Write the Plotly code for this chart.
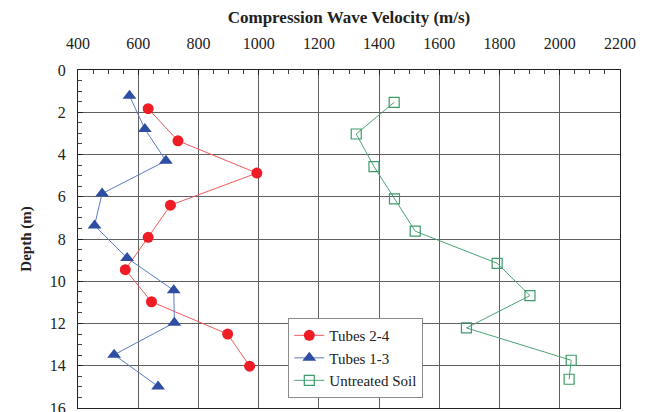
import plotly.graph_objects as go

# Tubes 2-4
red_vel = [633, 732, 994, 707, 633, 557, 644, 897, 970]
red_depth = [1.83, 3.35, 4.88, 6.4, 7.92, 9.45, 10.97, 12.5, 14.02]
# Tubes 1-3
blue_vel = [571, 622, 692, 480, 455, 563, 718, 720, 520, 666]
blue_depth = [1.22, 2.79, 4.3, 5.85, 7.36, 8.9, 10.43, 11.96, 13.48, 14.98]
# Untreated Soil
green_vel = [1450, 1324, 1383, 1451, 1520, 1792, 1901, 1690, 2038, 2031]
green_depth = [1.53, 3.03, 4.57, 6.1, 7.63, 9.15, 10.68, 12.21, 13.74, 14.64]

x_ticks = list(range(400, 2201, 200))
y_ticks = list(range(0, 17, 2))

FONT = "'Liberation Serif', 'Times New Roman', serif"

fig = go.Figure()
fig.add_trace(go.Scatter(
    x=red_vel, y=red_depth, mode="lines+markers", name="Tubes 2-4",
    line=dict(color="#f25a5a", width=1),
    marker=dict(symbol="circle", size=11, color="#ee1c25", line=dict(width=0)),
))
fig.add_trace(go.Scatter(
    x=blue_vel, y=blue_depth, mode="lines+markers", name="Tubes 1-3",
    line=dict(color="#5b79c4", width=1),
    marker=dict(symbol="triangle-up", size=12, color="#2d4ea3", line=dict(width=0)),
))
fig.add_trace(go.Scatter(
    x=green_vel, y=green_depth, mode="lines+markers", name="Untreated Soil",
    line=dict(color="#4ba575", width=1),
    marker=dict(symbol="square-open", size=10, color="#3e9b68", line=dict(width=1.2)),
))

fig.update_layout(
    width=649, height=412,
    margin=dict(l=78, r=29, t=70, b=4),
    paper_bgcolor="white", plot_bgcolor="white",
    font=dict(family=FONT, size=16, color="#222"),
    showlegend=True,
    legend=dict(
        x=0.388, y=0.266, xanchor="left", yanchor="top",
        bgcolor="white", bordercolor="#8a8a8a", borderwidth=1,
        font=dict(family=FONT, size=15, color="#222"),
        tracegroupgap=0, itemwidth=30,
    ),
    xaxis=dict(
        side="top", range=[400, 2200], tickvals=x_ticks,
        ticktext=[str(v) for v in x_ticks], automargin=False,
        showgrid=True, gridcolor="#606060", gridwidth=1,
        showline=True, linecolor="#222", linewidth=1, mirror=True,
        ticks="inside", ticklen=5, tickcolor="#222",
        minor=dict(dtick=50, ticks="inside", ticklen=4, tickcolor="#444", showgrid=False),
        zeroline=False, ticklabelstandoff=14, ticklabeloverflow="allow",
        title=dict(text="<b>Compression Wave Velocity (m/s)</b>", font=dict(family=FONT, size=17), standoff=6),
        tickfont=dict(family=FONT, size=16),
    ),
    yaxis=dict(
        range=[16, 0], tickvals=y_ticks,
        ticktext=[str(v) for v in y_ticks], automargin=False,
        showgrid=True, gridcolor="#606060", gridwidth=1,
        showline=True, linecolor="#222", linewidth=1, mirror=True,
        ticks="inside", ticklen=5, tickcolor="#222",
        minor=dict(dtick=0.5, ticks="inside", ticklen=4, tickcolor="#444", showgrid=False),
        zeroline=False, ticklabelstandoff=8, ticklabeloverflow="allow",
        title=dict(text="<b>Depth (m)</b>", font=dict(family=FONT, size=15), standoff=14),
        tickfont=dict(family=FONT, size=16),
    ),
)

fig.write_html("out.html")
